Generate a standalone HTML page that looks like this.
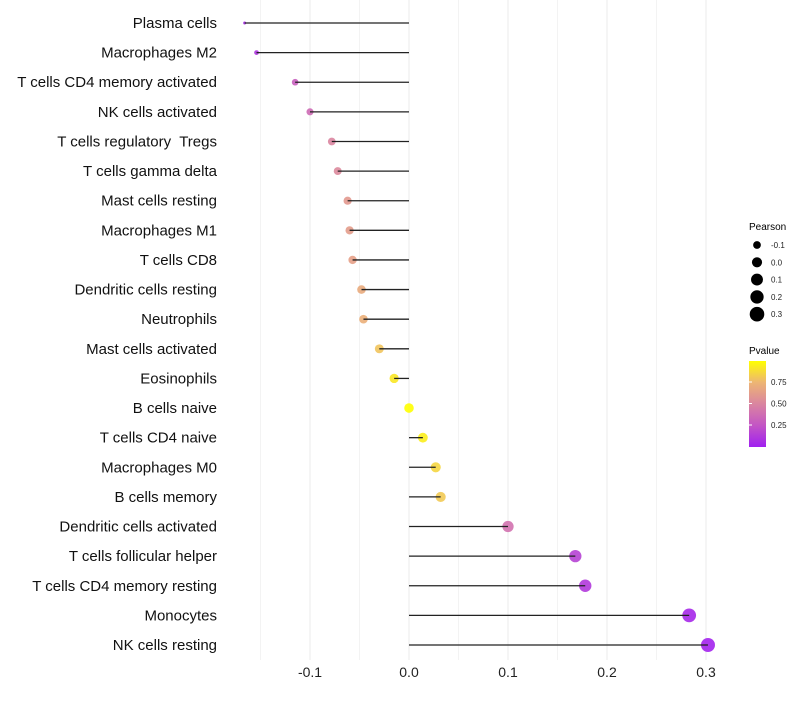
<!DOCTYPE html>
<html><head><meta charset="utf-8"><style>
body{margin:0;background:#fff;font-family:"Liberation Sans",sans-serif}
#ylabels text{white-space:pre}
</style></head><body>
<svg id="chart" width="800" height="700" xmlns="http://www.w3.org/2000/svg" font-family="Liberation Sans, sans-serif">
<defs><linearGradient id="pg" x1="0" y1="1" x2="0" y2="0">
<stop offset="0" stop-color="#A020F0"/><stop offset="0.25" stop-color="#C355C5"/><stop offset="0.5" stop-color="#DA85A0"/><stop offset="0.75" stop-color="#EDB574"/><stop offset="1" stop-color="#FFFF00"/></linearGradient></defs>
<g id="grid"></g>
<g id="dots"></g>
<g id="marks"></g>
<g id="ylabels"></g>
<g id="xlabels"></g>
<g>
<text x="749" y="230" font-size="10" fill="#000">Pearson</text>
<g id="sizeleg"></g>
</g>
<g>
<text x="749" y="354" font-size="10" fill="#000">Pvalue</text>
<rect x="749" y="361" width="17" height="86" fill="url(#pg)"/>
<g id="colleg"></g>
</g>
</svg>
<script>
const categories=["Plasma cells","Macrophages M2","T cells CD4 memory activated","NK cells activated","T cells regulatory  Tregs","T cells gamma delta","Mast cells resting","Macrophages M1","T cells CD8","Dendritic cells resting","Neutrophils","Mast cells activated","Eosinophils","B cells naive","T cells CD4 naive","Macrophages M0","B cells memory","Dendritic cells activated","T cells follicular helper","T cells CD4 memory resting","Monocytes","NK cells resting"];
const pearson=[-0.166,-0.154,-0.115,-0.100,-0.078,-0.072,-0.062,-0.060,-0.057,-0.048,-0.046,-0.030,-0.015,0.0,0.014,0.027,0.032,0.100,0.168,0.178,0.283,0.302];
const pvalue=[0.05,0.1,0.3,0.36,0.5,0.52,0.6,0.62,0.64,0.7,0.72,0.8,0.92,1.0,0.94,0.86,0.82,0.4,0.16,0.12,0.04,0.02];
const xTicks=[-0.1,0,0.1,0.2,0.3];
const xTickLabels=["-0.1","0.0","0.1","0.2","0.3"];
const sizeLegendVals=[-0.1,0,0.1,0.2,0.3];
const colorTicks=[0.25,0.5,0.75];
const NS="http://www.w3.org/2000/svg";
const x=v=>409+v*990;
const y=i=>23+i*(622/21);
const r=v=>1.5+Math.sqrt(Math.max(0,(v+0.166)/0.468))*5.5;
const cy=p=>446.5-p*86;
const stops=[[0,[160,32,240]],[0.25,[195,85,197]],[0.5,[218,133,160]],[0.75,[237,181,116]],[1,[255,255,0]]];
function col(p){for(let k=1;k<stops.length;k++){if(p<=stops[k][0]){const a=stops[k-1],b=stops[k],t=(p-a[0])/(b[0]-a[0]);return "rgb("+a[1].map((c,j)=>Math.round(c+(b[1][j]-c)*t)).join(",")+")";}}return "rgb(255,255,0)";}
function mk(tag,at,par){const e=document.createElementNS(NS,tag);for(const k in at)e.setAttribute(k,at[k]);document.getElementById(par).appendChild(e);return e;}
for(let v=-0.15;v<=0.301;v+=0.05){const l=mk("line",{x1:x(v),x2:x(v),y1:0,y2:660,stroke:"#ebebeb","stroke-width":Math.abs(Math.round(v*100)%10)<1?1:0.6},"grid");

}
xTicks.forEach((v,i)=>{const t=mk("text",{x:x(v),y:677,"font-size":14,"text-anchor":"middle",fill:"#222"},"xlabels");t.textContent=xTickLabels[i];

});
categories.forEach((c,i)=>{
const t=mk("text",{x:217,y:y(i)+5,"font-size":15,"text-anchor":"end",fill:"#111"},"ylabels");t.textContent=c;


const d=mk("circle",{cx:x(pearson[i]),cy:y(i),r:r(pearson[i]),fill:col(pvalue[i]),"fill-opacity":0.9},"dots");


const l=mk("line",{x1:x(0),x2:x(pearson[i]),y1:y(i),y2:y(i),stroke:"#222","stroke-width":1.3},"marks");


});
sizeLegendVals.forEach((v,i)=>{const yy=245+i*17.3;
const c=mk("circle",{cx:757,cy:yy,r:r(v)+0.3,fill:"#000"},"sizeleg");


const t=mk("text",{x:771,y:yy+3,"font-size":8,fill:"#222"},"sizeleg");t.textContent=v.toFixed(1);

});
colorTicks.forEach(p=>{const yy=cy(p);
const l=mk("line",{x1:749,x2:752,y1:yy,y2:yy,stroke:"#fff"},"colleg");


const t=mk("text",{x:771,y:yy+3,"font-size":8,fill:"#222"},"colleg");t.textContent=p.toFixed(2);

});
</script>
</body></html>
